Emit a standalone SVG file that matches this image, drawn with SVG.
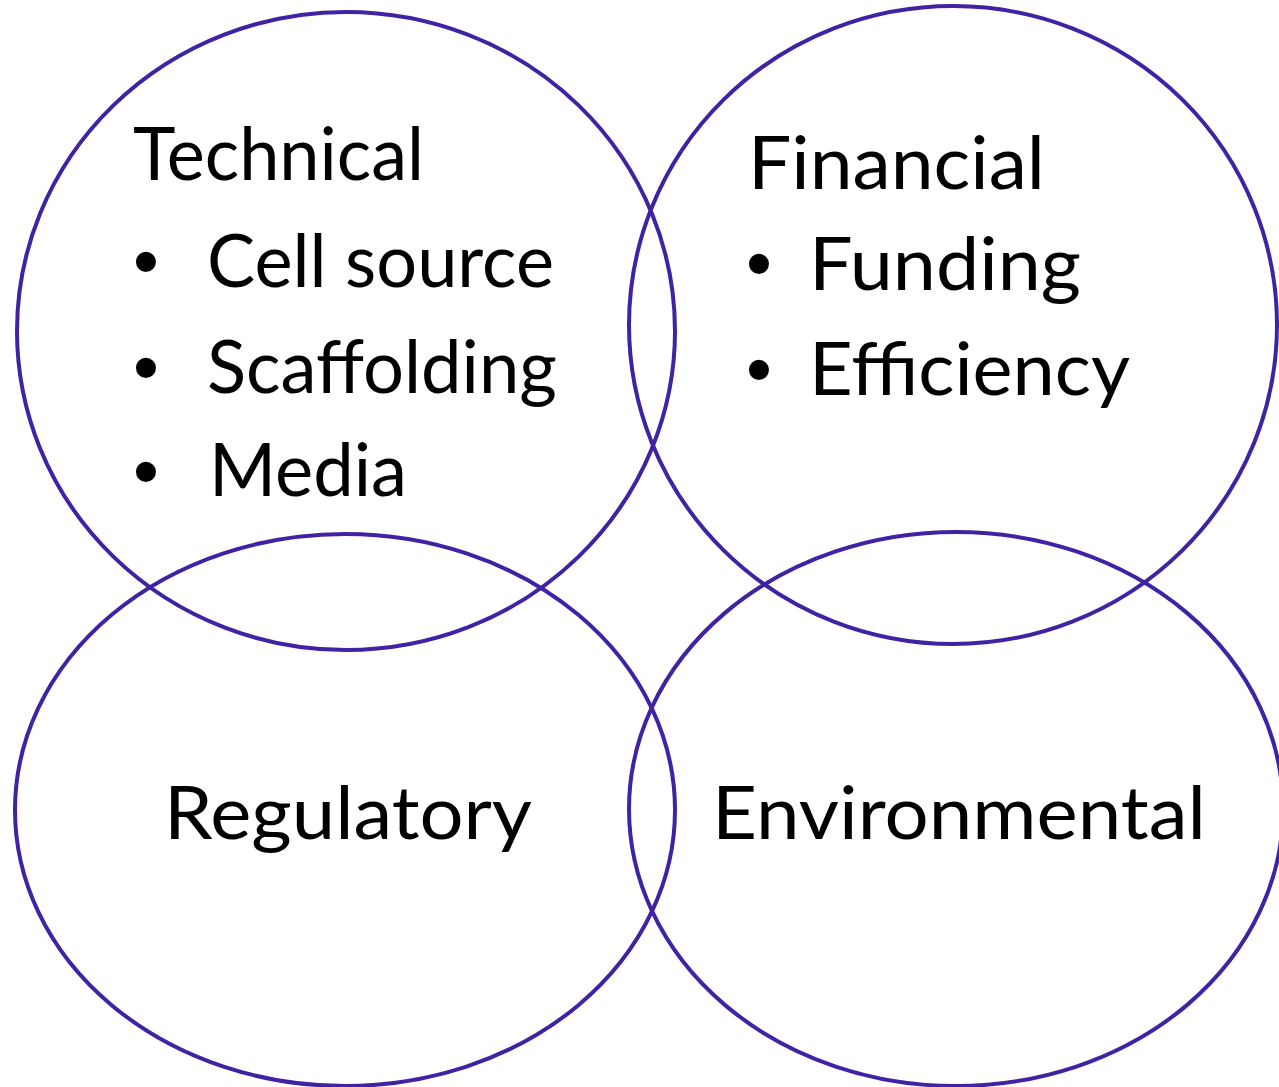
<svg xmlns="http://www.w3.org/2000/svg" width="1279" height="1087" viewBox="0 0 1279 1087">
  <style>
    .ring { fill: none; stroke: #3f23a4; stroke-width: 4; }
    .lbl { font-family: Lato, "Open Sans", "Liberation Sans", sans-serif; font-size: 74px; fill: #000; }
    .bul { font-family: "Liberation Sans", sans-serif; font-size: 74px; fill: #000; text-anchor: middle; }
  </style>
  <rect width="1279" height="1087" fill="#fff"/>

  <g id="technical">
    <ellipse class="ring" cx="346" cy="331" rx="329" ry="319"/>
    <text class="lbl" x="133" y="180" textLength="291" lengthAdjust="spacingAndGlyphs">Technical</text>
    <text class="bul" x="146" y="287">•</text>
    <text class="lbl" x="207" y="287" textLength="347" lengthAdjust="spacingAndGlyphs">Cell source</text>
    <text class="bul" x="146" y="393">•</text>
    <text class="lbl" x="207" y="393" textLength="350" lengthAdjust="spacingAndGlyphs">Scaffolding</text>
    <text class="bul" x="146" y="497">•</text>
    <text class="lbl" x="209" y="496" textLength="198" lengthAdjust="spacingAndGlyphs">Media</text>
  </g>

  <g id="financial">
    <ellipse class="ring" cx="953" cy="325" rx="324" ry="319"/>
    <text class="lbl" x="748" y="189" textLength="297" lengthAdjust="spacingAndGlyphs">Financial</text>
    <text class="bul" x="759" y="289">•</text>
    <text class="lbl" x="809" y="290" textLength="272" lengthAdjust="spacingAndGlyphs">Funding</text>
    <text class="bul" x="759" y="395">•</text>
    <text class="lbl" x="809" y="395" textLength="321" lengthAdjust="spacingAndGlyphs">Efficiency</text>
  </g>

  <g id="regulatory">
    <ellipse class="ring" cx="345" cy="810" rx="330" ry="276"/>
    <text class="lbl" x="164" y="839" textLength="368" lengthAdjust="spacingAndGlyphs">Regulatory</text>
  </g>

  <g id="environmental">
    <ellipse class="ring" cx="956" cy="809" rx="327" ry="277"/>
    <text class="lbl" x="712" y="839" textLength="494" lengthAdjust="spacingAndGlyphs">Environmental</text>
  </g>

  <g id="connectors"/>
</svg>
